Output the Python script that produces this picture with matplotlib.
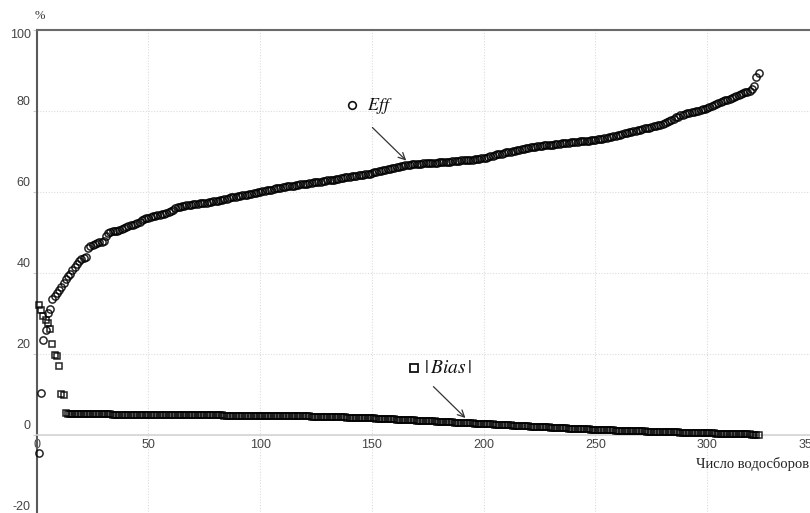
import matplotlib
matplotlib.use('Agg')
import matplotlib.pyplot as plt
from matplotlib.transforms import ScaledTranslation

# Efficiency of each catchment, sorted ascending (%)
eff = [
    -4.5, 10.4, 23.3, 25.9, 30.0, 31.0, 33.5, 34.2, 35.0, 35.8,
    36.5, 37.5, 38.5, 39.3, 39.8, 40.8, 41.4, 42.2, 42.8, 43.3,
    43.6, 44.0, 46.1, 46.6, 46.9, 47.1, 47.3, 47.5, 47.6, 47.8,
    49.0, 49.8, 50.1, 50.2, 50.3, 50.4, 50.5, 50.8, 51.0, 51.3,
    51.5, 51.7, 51.9, 52.1, 52.3, 52.6, 52.9, 53.2, 53.4, 53.6,
    53.7, 53.9, 54.0, 54.2, 54.3, 54.5, 54.6, 54.8, 55.0, 55.3,
    55.6, 55.9, 56.2, 56.3, 56.4, 56.5, 56.6, 56.7, 56.8, 56.9,
    57.0, 57.0, 57.1, 57.2, 57.3, 57.3, 57.4, 57.5, 57.6, 57.7,
    57.8, 57.9, 58.0, 58.1, 58.3, 58.4, 58.6, 58.7, 58.8, 58.9,
    59.0, 59.1, 59.2, 59.3, 59.4, 59.5, 59.6, 59.7, 59.9, 60.0,
    60.1, 60.2, 60.3, 60.4, 60.5, 60.7, 60.8, 60.9, 61.0, 61.1,
    61.2, 61.3, 61.4, 61.4, 61.5, 61.6, 61.7, 61.8, 61.9, 62.0,
    62.0, 62.1, 62.2, 62.3, 62.4, 62.4, 62.5, 62.6, 62.7, 62.8,
    62.9, 63.0, 63.0, 63.1, 63.2, 63.3, 63.4, 63.5, 63.6, 63.7,
    63.8, 63.8, 63.9, 64.0, 64.1, 64.2, 64.3, 64.3, 64.4, 64.6,
    64.8, 64.9, 65.0, 65.2, 65.3, 65.4, 65.6, 65.7, 65.8, 65.9,
    66.0, 66.2, 66.3, 66.4, 66.6, 66.7, 66.7, 66.8, 66.8, 66.9,
    66.9, 66.9, 67.0, 67.0, 67.0, 67.0, 67.1, 67.1, 67.1, 67.2,
    67.2, 67.3, 67.3, 67.4, 67.4, 67.5, 67.5, 67.6, 67.6, 67.7,
    67.7, 67.8, 67.8, 67.9, 67.9, 68.0, 68.1, 68.1, 68.2, 68.3,
    68.4, 68.6, 68.7, 68.9, 69.0, 69.2, 69.3, 69.4, 69.6, 69.7,
    69.8, 69.9, 70.0, 70.1, 70.2, 70.3, 70.5, 70.6, 70.7, 70.8,
    70.9, 71.0, 71.1, 71.2, 71.2, 71.3, 71.4, 71.4, 71.5, 71.6,
    71.6, 71.7, 71.8, 71.8, 71.9, 72.0, 72.0, 72.1, 72.2, 72.2,
    72.3, 72.3, 72.4, 72.4, 72.5, 72.5, 72.6, 72.7, 72.7, 72.8,
    72.9, 73.0, 73.1, 73.2, 73.3, 73.5, 73.6, 73.7, 73.8, 74.0,
    74.1, 74.2, 74.4, 74.5, 74.6, 74.8, 74.9, 75.0, 75.2, 75.3,
    75.4, 75.6, 75.7, 75.8, 76.0, 76.1, 76.2, 76.4, 76.5, 76.7,
    76.9, 77.2, 77.5, 77.8, 78.0, 78.3, 78.5, 78.8, 79.0, 79.1,
    79.3, 79.4, 79.6, 79.7, 79.9, 80.0, 80.2, 80.3, 80.5, 80.6,
    80.9, 81.2, 81.4, 81.7, 81.9, 82.1, 82.3, 82.5, 82.7, 82.9,
    83.2, 83.4, 83.7, 83.9, 84.2, 84.4, 84.5, 84.6, 84.8, 85.3,
    86.0, 88.3, 89.3,
]

# Absolute bias of each catchment, sorted descending (%)
bias = [
    32.1, 30.7, 29.4, 28.4, 27.6, 26.1, 22.5, 19.6, 19.5, 17.0,
    10.1, 9.9, 5.4,
    5.20, 5.18, 5.16, 5.15, 5.14, 5.13, 5.12, 5.11, 5.10, 5.09,
    5.08, 5.08, 5.07, 5.07, 5.06, 5.06, 5.05, 5.05, 5.04, 5.04,
    5.03, 5.03, 5.02, 5.02, 5.01, 5.01, 5.00, 5.00, 4.99, 4.99,
    4.98, 4.98, 4.97, 4.97, 4.96, 4.96, 4.95, 4.95, 4.94, 4.94,
    4.93, 4.93, 4.92, 4.92, 4.91, 4.91, 4.90, 4.90, 4.89, 4.89,
    4.88, 4.88, 4.87, 4.87, 4.86, 4.86, 4.85, 4.85, 4.84, 4.84,
    4.83, 4.83, 4.82, 4.82, 4.81, 4.81, 4.80, 4.80, 4.79, 4.79,
    4.78, 4.78, 4.77, 4.77, 4.76, 4.76, 4.75, 4.75, 4.74, 4.74,
    4.73, 4.73, 4.72, 4.72, 4.71, 4.71, 4.70,
    4.69, 4.69, 4.68, 4.68, 4.67, 4.66, 4.66, 4.65, 4.64, 4.64,
    4.63, 4.62, 4.62, 4.61, 4.60, 4.60, 4.59, 4.58, 4.58, 4.57,
    4.56, 4.55, 4.54, 4.53, 4.52,
    4.50, 4.49, 4.47, 4.45, 4.44, 4.42, 4.40, 4.39, 4.37, 4.35,
    4.34, 4.32, 4.30, 4.29, 4.27, 4.25, 4.24, 4.22, 4.20, 4.19,
    4.17, 4.15, 4.14, 4.12, 4.10,
    4.07, 4.04, 4.02, 3.99, 3.96, 3.93, 3.90, 3.88, 3.85, 3.82,
    3.79, 3.76, 3.74, 3.71, 3.68, 3.65, 3.62, 3.60, 3.57, 3.54,
    3.51, 3.48, 3.46, 3.43, 3.40, 3.37, 3.34, 3.32, 3.29, 3.26,
    3.23, 3.20, 3.18, 3.15, 3.12, 3.09, 3.06, 3.04, 3.01, 2.98,
    2.95, 2.92, 2.90, 2.87, 2.84, 2.81, 2.78, 2.76, 2.73, 2.70,
    2.67, 2.64, 2.61, 2.58, 2.55, 2.52, 2.49, 2.46, 2.43, 2.40,
    2.37, 2.34, 2.31, 2.28, 2.25, 2.22, 2.19, 2.16, 2.13, 2.10,
    2.07, 2.04, 2.01, 1.98, 1.95, 1.92, 1.90, 1.87, 1.84, 1.81,
    1.78, 1.75, 1.72, 1.70, 1.67, 1.64, 1.61, 1.58, 1.55, 1.53,
    1.50, 1.47, 1.44, 1.42, 1.39, 1.36, 1.34, 1.31, 1.28, 1.26,
    1.23, 1.20,
    1.18, 1.16, 1.15, 1.13, 1.11, 1.10, 1.08, 1.06, 1.04, 1.03,
    1.01, 0.99, 0.98, 0.96, 0.94, 0.92, 0.91, 0.89, 0.87, 0.86,
    0.84, 0.82, 0.81, 0.79, 0.77, 0.75, 0.74, 0.72, 0.70, 0.69,
    0.67, 0.65, 0.64, 0.62, 0.60, 0.58, 0.57, 0.55, 0.53, 0.52,
    0.50, 0.48, 0.47, 0.45, 0.44, 0.43, 0.41, 0.40,
    0.38, 0.37, 0.35, 0.34, 0.32, 0.31, 0.29, 0.28, 0.26, 0.25,
    0.23, 0.22, 0.20, 0.19, 0.17, 0.16, 0.14, 0.13, 0.11, 0.10,
    0.08, 0.07, 0.05,
]

xticks = [0, 50, 100, 150, 200, 250, 300, 350]
yticks = [-20, 0, 20, 40, 60, 80, 100]
xlabel = 'Число водосборов'
ylabel = '%'

plt.rcParams['mathtext.fontset'] = 'stix'
W, H = 810, 513
fig = plt.figure(figsize=(W / 100, H / 100), dpi=100)

# axes box in pixels: x 0..350 spans 36.7..819, y -20..100 spans 516..29.5
x0, x1 = 36.7, 819.0
ytop, ybot = 29.5, 516.0
ax = fig.add_axes([x0 / W, (H - ybot) / H, (x1 - x0) / W, (ybot - ytop) / H])

n_eff = range(1, len(eff) + 1)
n_bias = range(1, len(bias) + 1)
ax.plot(n_eff, eff, ls='none', marker='o', ms=5.2, mfc='none', mec='#000000',
        mew=1.1, alpha=0.85, clip_on=False, zorder=3)
ax.plot(n_bias, bias, ls='none', marker='s', ms=4.8, mfc='none', mec='#000000',
        mew=1.1, alpha=0.85, clip_on=False, zorder=3)

ax.set_xlim(0, 350)
ax.set_ylim(-20, 100)

ax.spines['right'].set_visible(False)
ax.spines['left'].set_color('#5a5a5a')
ax.spines['left'].set_linewidth(1.5)
ax.spines['top'].set_color('#6a6a6a')
ax.spines['top'].set_linewidth(1.5)
ax.spines['bottom'].set_position(('data', 0))
ax.spines['bottom'].set_color('#d4d4d4')
ax.spines['bottom'].set_linewidth(1.2)

ax.set_xticks(xticks)
ax.set_yticks(yticks)
ax.tick_params(axis='x', length=0, pad=3, labelsize=9, labelcolor='#444444')
ax.tick_params(axis='y', length=3, color='#cccccc', labelleft=False)
for lab in ax.get_xticklabels():
    lab.set_fontfamily('Liberation Sans')
# last label is pulled inside the plot edge
ax.get_xticklabels()[-1].set_horizontalalignment('right')

ax.grid(True, ls=(0, (1, 1.5)), color='#dcdcdc', lw=0.8)
ax.set_axisbelow(True)

# y tick labels sit a little above their grid lines
ytrans = ax.get_yaxis_transform()
for v in yticks:
    dy = -5.7 if v == yticks[-1] else 8.7
    off = ScaledTranslation(-6 / 100, dy / 100, fig.dpi_scale_trans)
    ax.text(0, v, str(v), transform=ytrans + off, ha='right', va='center',
            fontsize=9, color='#444444', family='Liberation Sans')

fig.text(40 / W, 1 - 16 / H, ylabel, ha='center', va='center', fontsize=9,
         family='Liberation Serif', color='#333333')
fig.text(809 / W, 1 - 464 / H, xlabel, ha='right', va='center', fontsize=10.5,
         family='Liberation Serif', color='#222222')

# series keys with arrows pointing to the curves
ax.plot([140.9], [81.3], ls='none', marker='o', ms=5.5, mfc='none', mec='#111111', mew=1.2)
ax.text(147.7, 81.2, r'$Eff$', fontsize=13, va='center', ha='left', color='#111111')
ax.annotate('', xy=(166.2, 67.2), xytext=(149.3, 76.3),
            arrowprops=dict(arrowstyle='->', color='#333333', lw=0.9,
                            mutation_scale=12))

ax.plot([168.9], [16.6], ls='none', marker='s', ms=6.2, mfc='none', mec='#111111', mew=1.3)
ax.text(173.5, 16.6, r'$|\,Bias\,|$', fontsize=14, va='center', ha='left', color='#111111')
ax.annotate('', xy=(192.7, 3.7), xytext=(176.6, 12.4),
            arrowprops=dict(arrowstyle='->', color='#333333', lw=0.9,
                            mutation_scale=12))

fig.savefig('out.png', dpi=100)
